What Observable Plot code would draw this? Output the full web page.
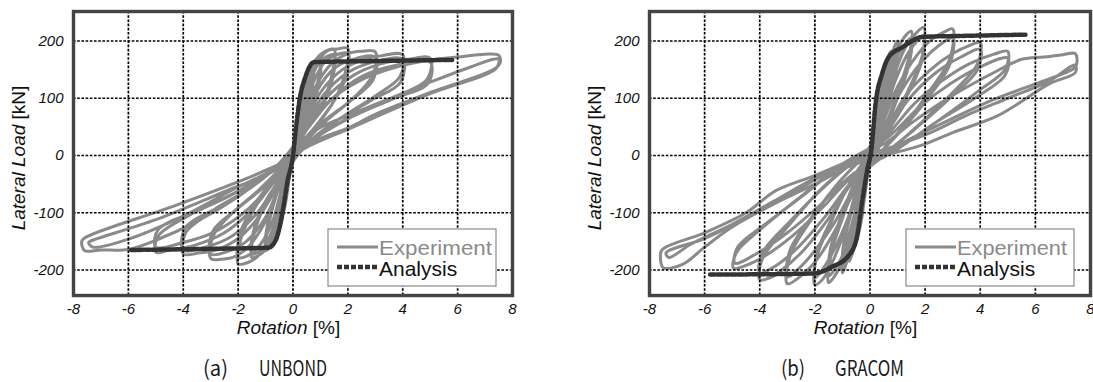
<!DOCTYPE html>
<html>
<head>
<meta charset="utf-8">
<script src="https://cdn.jsdelivr.net/npm/d3@7"></script>
<script src="https://cdn.jsdelivr.net/npm/@observablehq/plot@0.6"></script>
<style>
  html, body { margin: 0; padding: 0; background: #fff; }
  #wrap { position: relative; width: 1093px; height: 382px; overflow: hidden; }
  #wrap svg { position: absolute; top: 0; overflow: visible; }
  g[aria-label$="tick label"] text { font-style: italic; }
</style>
</head>
<body>
<div id="wrap"></div>
<script>
// ---------- tick labels ----------
const rotationTicks = [-8, -6, -4, -2, 0, 2, 4, 6, 8];
const loadTicks = [-200, -100, 0, 100, 200];
const gridRotation = [-6, -4, -2, 0, 2, 4, 6];
const gridLoad = [-200, -100, 0, 100, 200];

const panelTitles = ["(a)", "(b)"];
const panelNames = ["UNBOND", "GRACOM"];
const legendNames = ["Experiment", "Analysis"];

// ---------- (a) UNBOND : experiment path (rotation %, load kN) ----------
const unbondExperiment = [
[0,0],[0.1,30],[0.25,70],[0.2,40],[0.05,8],[-0.1,-28],[-0.25,-68],[-0.2,-40],[-0.05,-8],[0,0],
[0.15,48],[0.3,95],[0.5,124],[0.45,92],[0.2,38],[0,4],[-0.15,-44],[-0.3,-90],[-0.5,-120],[-0.45,-88],[-0.2,-34],[0,0],
[0.15,45],[0.35,110],[0.55,140],[0.75,152],[0.68,112],[0.35,52],[0.05,8],[-0.2,-50],[-0.4,-112],[-0.6,-140],[-0.75,-150],[-0.68,-112],[-0.35,-48],[-0.05,-5],
[0.2,55],[0.45,128],[0.7,160],[1.0,172],[0.9,128],[0.5,58],[0.1,14],[-0.25,-55],[-0.5,-124],[-0.75,-155],[-1.0,-166],[-0.9,-124],[-0.5,-54],[-0.1,-8],
[0.25,60],[0.5,125],[0.75,155],[1.0,165],[0.92,120],[0.5,55],[0.1,12],[-0.25,-52],[-0.5,-118],[-0.75,-150],[-1.0,-160],[-0.92,-118],[-0.5,-50],[-0.1,-6],
[0.2,50],[0.5,124],[0.8,165],[1.1,180],[1.5,185],[1.4,138],[1.0,84],[0.5,48],[0.1,14],[-0.3,-55],[-0.6,-128],[-1.0,-165],[-1.5,-178],[-1.4,-134],[-1.0,-84],[-0.5,-44],[-0.1,-10],
[0.25,55],[0.55,120],[0.9,158],[1.2,172],[1.5,176],[1.42,130],[1.0,80],[0.5,45],[0.1,12],[-0.3,-52],[-0.65,-122],[-1.0,-158],[-1.5,-172],[-1.42,-128],[-1.0,-80],[-0.5,-42],[-0.1,-8],
[0.25,54],[0.6,124],[1.0,170],[1.3,184],[1.6,186],[2.0,187],[1.9,144],[1.5,96],[0.8,50],[0.2,15],[-0.3,-50],[-0.7,-124],[-1.2,-172],[-1.6,-186],[-2.0,-189],[-1.9,-146],[-1.4,-92],[-0.8,-50],[-0.2,-12],
[0.3,55],[0.7,122],[1.1,160],[1.5,174],[2.0,178],[1.92,135],[1.4,88],[0.8,48],[0.2,12],[-0.35,-50],[-0.8,-122],[-1.3,-162],[-1.7,-176],[-2.0,-178],[-1.92,-135],[-1.4,-86],[-0.8,-46],[-0.2,-10],
[0.3,50],[0.8,118],[1.4,160],[2.0,178],[2.5,182],[3.0,181],[2.9,140],[2.2,100],[1.2,60],[0.3,15],[-0.4,-45],[-1.0,-115],[-1.6,-158],[-2.1,-176],[-2.6,-181],[-3.0,-180],[-2.9,-140],[-2.2,-100],[-1.2,-58],[-0.3,-12],
[0.35,50],[0.9,115],[1.5,152],[2.2,168],[3.0,172],[2.92,132],[2.0,92],[1.0,55],[0.3,14],[-0.4,-42],[-1.0,-108],[-1.7,-150],[-2.4,-168],[-3.0,-172],[-2.92,-132],[-2.0,-92],[-1.0,-52],[-0.3,-10],
[0.4,50],[1.0,110],[1.8,150],[2.6,168],[3.2,174],[4.0,176],[3.9,138],[3.0,104],[1.7,64],[0.5,20],[-0.4,-40],[-1.2,-104],[-2.0,-145],[-2.8,-165],[-3.4,-170],[-4.0,-172],[-3.9,-134],[-3.0,-100],[-1.7,-60],[-0.4,-12],
[0.4,45],[1.1,105],[2.0,145],[3.0,164],[4.0,168],[3.92,128],[2.8,95],[1.5,58],[0.4,16],[-0.45,-38],[-1.3,-100],[-2.2,-140],[-3.2,-160],[-4.0,-165],[-3.92,-126],[-2.8,-92],[-1.5,-55],[-0.4,-10],
[0.4,45],[1.2,100],[2.2,140],[3.2,160],[4.2,168],[5.0,170],[4.9,134],[3.8,104],[2.2,70],[0.8,30],[-0.5,-35],[-1.5,-95],[-2.5,-135],[-3.6,-157],[-4.5,-165],[-5.0,-169],[-4.9,-140],[-3.8,-105],[-2.2,-68],[-0.8,-28],
[0.45,42],[1.4,98],[2.5,138],[3.6,156],[5.0,163],[4.92,126],[3.6,98],[2.0,64],[0.7,26],[-0.5,-32],[-1.6,-92],[-2.8,-132],[-4.0,-152],[-5.0,-160],[-4.92,-130],[-3.6,-98],[-2.0,-62],[-0.7,-24],
[0,2],[0.4,40],[1.2,90],[2.4,130],[3.8,155],[5.2,168],[6.0,172],[7.0,177],[7.5,175],[7.55,162],[7.3,150],[5.0,110],[3.0,72],[2.1,50],[1.0,30],[0.4,14],[0,0],[-0.8,-28],[-2.0,-72],[-3.5,-115],[-5.0,-148],[-6.0,-164],[-7.0,-165],[-7.6,-166],[-7.7,-150],[-7.6,-144],[-4.1,-84],[-0.86,-23],[0,0],
[0.3,25],[1.0,49],[2.0,70],[3.2,93],[5.0,128],[6.5,155],[7.3,168],[7.5,168],[7.4,152],[5.0,108],[2.1,48],[0.4,12],[-0.4,-15],[-1.0,-32],[-2.0,-55],[-4.1,-108],[-6.0,-146],[-7.3,-160],[-7.45,-152],[-7.4,-150],[-5.0,-112],[-2.08,-55],[-1.0,-35],[0,-5]
];
const unbondAnalysis = [
[-5.9,-165],[-3,-163],[-0.9,-161],[-0.65,-150],[-0.5,-128],[-0.35,-90],[-0.2,-45],[0,0],
[0.1,45],[0.25,100],[0.45,137],[0.6,155],[0.75,163],[3,165],[5.8,167]
];

// ---------- (b) GRACOM ----------
const gracomExperiment = [
[0,0],[0.1,40],[0.25,90],[0.2,55],[0.05,10],[-0.1,-40],[-0.25,-90],[-0.2,-55],[-0.05,-10],
[0.15,50],[0.3,110],[0.5,150],[0.42,100],[0.2,40],[0,0],[-0.15,-50],[-0.3,-110],[-0.5,-150],[-0.42,-100],[-0.2,-40],[0,0],
[0.2,55],[0.4,125],[0.6,165],[0.75,182],[0.68,135],[0.4,65],[0.1,5],[-0.2,-55],[-0.4,-125],[-0.6,-165],[-0.75,-185],[-0.68,-135],[-0.4,-65],[-0.1,-5],
[0.25,60],[0.5,130],[0.8,180],[1.0,200],[0.92,150],[0.6,85],[0.2,15],[-0.25,-55],[-0.5,-125],[-0.8,-180],[-1.0,-205],[-0.92,-150],[-0.6,-85],[-0.2,-15],
[0.25,55],[0.5,120],[0.8,170],[1.0,188],[0.92,140],[0.6,78],[0.2,12],[-0.25,-52],[-0.5,-118],[-0.8,-170],[-1.0,-192],[-0.92,-142],[-0.6,-78],[-0.2,-12],
[0.3,60],[0.6,125],[1.0,185],[1.3,210],[1.5,217],[1.4,170],[1.0,110],[0.5,45],[0.1,0],[-0.3,-55],[-0.6,-120],[-1.0,-185],[-1.3,-212],[-1.5,-222],[-1.4,-170],[-1.0,-110],[-0.5,-45],[-0.1,0],
[0.3,55],[0.65,120],[1.05,178],[1.5,205],[1.42,160],[1.0,100],[0.5,40],[0.1,-2],[-0.3,-52],[-0.65,-118],[-1.05,-180],[-1.5,-210],[-1.42,-160],[-1.0,-100],[-0.5,-40],[-0.1,0],
[0.35,55],[0.8,130],[1.3,190],[1.7,215],[1.95,224],[1.9,175],[1.4,115],[0.7,45],[0.1,-5],[-0.4,-60],[-0.9,-130],[-1.4,-190],[-1.75,-218],[-2.0,-226],[-1.95,-180],[-1.4,-115],[-0.7,-45],[-0.1,0],
[0.4,52],[0.85,122],[1.4,180],[1.95,210],[1.88,165],[1.3,100],[0.6,38],[0.1,-5],[-0.4,-55],[-0.9,-122],[-1.5,-182],[-2.0,-214],[-1.92,-170],[-1.3,-102],[-0.6,-38],[-0.1,0],
[0.4,50],[1.0,120],[1.7,175],[2.3,205],[2.7,216],[3.0,221],[2.9,170],[2.2,115],[1.2,50],[0.2,-5],[-0.5,-55],[-1.2,-125],[-1.9,-180],[-2.5,-210],[-3.0,-224],[-2.9,-175],[-2.1,-110],[-1.1,-45],[-0.2,0],
[0.45,45],[1.1,110],[1.9,165],[2.5,192],[3.0,205],[2.9,160],[2.1,100],[1.1,42],[0.2,-5],[-0.5,-50],[-1.3,-118],[-2.1,-172],[-2.6,-198],[-3.0,-212],[-2.9,-165],[-2.0,-100],[-1.0,-40],[-0.2,0],
[0.5,40],[1.3,105],[2.2,150],[3.0,178],[3.6,192],[4.0,197],[3.9,160],[3.0,110],[1.8,55],[0.5,0],[-0.6,-45],[-1.5,-110],[-2.4,-165],[-3.2,-200],[-3.6,-213],[-4.0,-217],[-3.9,-180],[-3.0,-125],[-1.8,-60],[-0.5,-5],
[0.55,38],[1.4,98],[2.4,145],[3.3,172],[4.0,185],[3.9,150],[2.9,100],[1.6,45],[0.4,-2],[-0.6,-42],[-1.6,-105],[-2.6,-160],[-3.4,-192],[-4.0,-205],[-3.9,-170],[-2.9,-115],[-1.6,-52],[-0.4,-3],
[0.6,35],[1.6,90],[2.6,130],[3.6,160],[4.5,177],[5.0,182],[4.9,150],[4.0,115],[2.6,65],[1.0,12],[-0.6,-35],[-1.7,-90],[-2.8,-140],[-3.8,-175],[-4.5,-192],[-4.95,-197],[-4.85,-170],[-4.0,-130],[-2.6,-75],[-1.0,-15],
[0.65,32],[1.8,85],[2.9,125],[4.0,155],[5.0,170],[4.9,140],[3.8,100],[2.3,55],[0.9,8],[-0.6,-32],[-1.8,-86],[-3.0,-135],[-4.0,-168],[-4.9,-188],[-4.8,-160],[-3.8,-120],[-2.3,-65],[-0.9,-12],
[0.5,20],[1.6,60],[3.0,105],[4.5,145],[5.5,168],[6.3,172],[7.0,176],[7.45,178],[7.5,160],[7.4,152],[6.0,125],[4.5,98],[3.0,65],[1.5,30],[0.3,0],[-0.8,-20],[-2.0,-50],[-3.5,-85],[-5.0,-125],[-6.0,-160],[-6.8,-190],[-7.5,-196],[-7.6,-180],[-7.55,-165],[-6.0,-135],[-4.5,-100],[-3.4,-61],[-2.0,-35],[-0.4,-3],
[0.8,15],[2.2,40],[3.5,70],[5.0,100],[6.5,130],[7.45,158],[7.45,145],[6.5,125],[4.66,70],[3.0,40],[2.0,20],[0.9,5],[-0.5,-10],[-2.0,-40],[-3.5,-80],[-5.0,-120],[-6.5,-155],[-7.3,-178],[-7.4,-170],[-6.0,-145],[-4.5,-110],[-3.0,-70],[-1.5,-30],[0,0]
];
const gracomAnalysis = [
[-5.8,-208],[-2.0,-206],[-1.41,-195],[-0.8,-176],[-0.5,-148],[-0.26,-73],[-0.1,-25],[0.05,10],
[0.2,90],[0.44,143],[0.68,172],[1.17,189],[1.9,207],[3.5,209],[5.64,211]
];

const FONT = '"Liberation Sans", Arial, Helvetica, sans-serif';
const H = 382, TOP = 11, FRAME_BOTTOM = 295;

function panel({left, width, marginLeft, marginRight, exp, ana, idx, capParts, expLen}) {
  const svg = Plot.plot({
    width, height: H,
    marginLeft, marginRight, marginTop: TOP, marginBottom: H - FRAME_BOTTOM,
    style: {fontFamily: FONT, background: "transparent", overflow: "visible"},
    x: {domain: [-8, 8], label: null},
    y: {domain: [-244.5, 251.5], label: null},
    marks: [
      Plot.line(exp, {x: d => d[0], y: d => d[1], stroke: "#8a8a8a", strokeWidth: 3, curve: "catmull-rom"}),
      Plot.gridX(gridRotation, {stroke: "#000", strokeOpacity: 1, strokeWidth: 1.7, strokeDasharray: "2.6,1.6"}),
      Plot.gridY(gridLoad, {stroke: "#000", strokeOpacity: 1, strokeWidth: 1.7, strokeDasharray: "2.6,1.6"}),
      Plot.line(ana, {x: d => d[0], y: d => d[1], stroke: "#333", strokeWidth: 4.5, strokeDasharray: "5,2", curve: "monotone-x"}),
      Plot.frame({stroke: "#444", strokeWidth: 3.4}),
      Plot.axisX(rotationTicks, {tickSize: 0, tickPadding: 8, fontSize: 15, tickFormat: d => String(d), label: null, fill: "#111"}),
      Plot.axisY(loadTicks, {tickSize: 0, tickPadding: 10, fontSize: 15, tickFormat: d => String(d), label: null, fill: "#111"})
    ]
  });
  svg.style.left = left + "px";
  const s = d3.select(svg);
  const right = width - marginRight;
  const cx = (marginLeft + right) / 2;

  // legend
  const bx = right - 16 - 168, by = 229;
  const g = s.append("g").attr("font-family", FONT).attr("text-anchor", "start");
  g.append("rect").attr("x", bx).attr("y", by).attr("width", 168).attr("height", 57)
    .attr("fill", "#fff").attr("stroke", "#8a8a8a").attr("stroke-width", 1.2);
  g.append("line").attr("x1", bx + 9).attr("x2", bx + 50).attr("y1", by + 18).attr("y2", by + 18)
    .attr("stroke", "#8a8a8a").attr("stroke-width", 3);
  g.append("line").attr("x1", bx + 9).attr("x2", bx + 50).attr("y1", by + 38).attr("y2", by + 38)
    .attr("stroke", "#333").attr("stroke-width", 4.5).attr("stroke-dasharray", "5,2");
  g.append("text").attr("x", bx + 51).attr("y", by + 26).attr("font-size", 21).attr("fill", "#8a8a8a")
    .attr("textLength", expLen).attr("lengthAdjust", "spacingAndGlyphs").text(legendNames[0]);
  g.append("text").attr("x", bx + 51).attr("y", by + 47).attr("font-size", 21).attr("fill", "#111")
    .text(legendNames[1]);

  // y axis label
  const yl = s.append("text").attr("font-family", FONT).attr("font-size", 19).attr("fill", "#111")
    .attr("text-anchor", "middle")
    .attr("transform", `translate(${marginLeft - 55},${158}) rotate(-90)`)
    .attr("dy", "0.35em");
  yl.append("tspan").attr("font-style", "italic").text("Lateral Load");
  yl.append("tspan").text(" [kN]");

  // x axis label
  const xl = s.append("text").attr("font-family", FONT).attr("font-size", 19).attr("fill", "#111")
    .attr("text-anchor", "middle").attr("x", cx - 4).attr("y", 334);
  xl.append("tspan").attr("font-style", "italic").text("Rotation");
  xl.append("tspan").text(" [%]");

  // caption
  const cap = s.append("g").attr("font-family", '"Noto Sans CJK JP", "DejaVu Sans", sans-serif')
    .attr("font-size", 21).attr("fill", "#1a1a1a").attr("text-anchor", "start");
  cap.append("text").attr("x", capParts[0]).attr("y", 376).attr("textLength", capParts[1] - capParts[0])
    .attr("lengthAdjust", "spacingAndGlyphs").text(panelTitles[idx]);
  cap.append("text").attr("x", capParts[2]).attr("y", 376).attr("textLength", capParts[3] - capParts[2])
    .attr("lengthAdjust", "spacingAndGlyphs").text(panelNames[idx]);
  return svg;
}

const wrap = document.getElementById("wrap");
wrap.appendChild(panel({left: 0, width: 546, marginLeft: 73, marginRight: 34,
  exp: unbondExperiment, ana: unbondAnalysis, idx: 0, capParts: [203, 228, 259, 327], expLen: 113}));
wrap.appendChild(panel({left: 546, width: 547, marginLeft: 103, marginRight: 3,
  exp: gracomExperiment, ana: gracomAnalysis, idx: 1, capParts: [235, 259, 289, 358], expLen: 110}));
</script>
</body>
</html>
